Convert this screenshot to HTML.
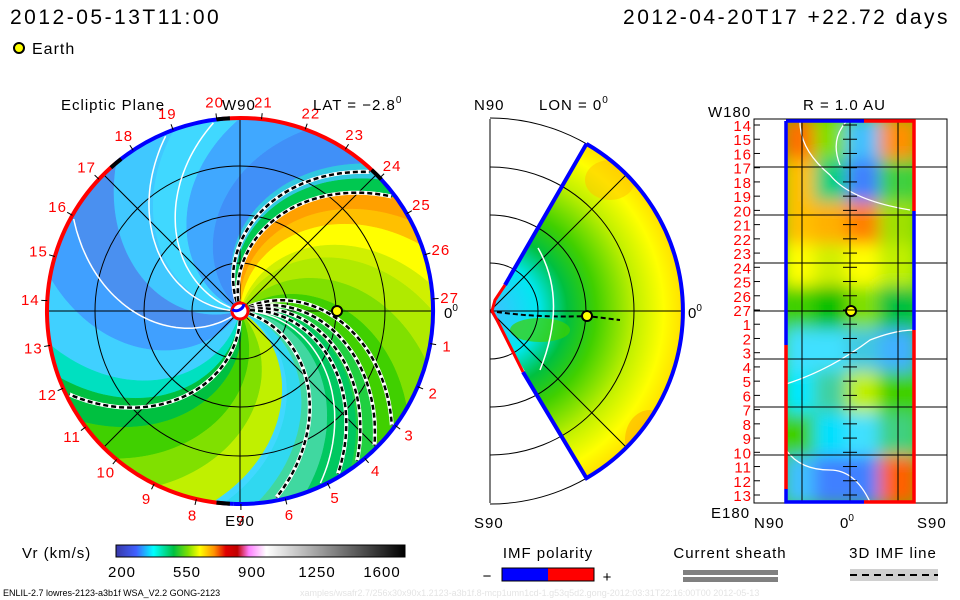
<!DOCTYPE html>
<html><head><meta charset="utf-8"><style>
html,body{margin:0;padding:0;background:#fff;}
svg{display:block;font-family:"Liberation Sans",sans-serif;}
.lbl{letter-spacing:1px;}
</style></head><body>
<svg id="c" width="960" height="600" viewBox="0 0 960 600" xmlns="http://www.w3.org/2000/svg">
<defs>
<clipPath id="leftClip"><circle cx="240" cy="311" r="193"/></clipPath>
<clipPath id="rightClip"><rect x="786" y="121" width="129" height="381"/></clipPath>
<clipPath id="midClip"><path d="M490,311 L586.5,143.9 A193,193 0 0 1 586.5,478.1 Z"/></clipPath>
<filter id="blur" x="-10%" y="-10%" width="120%" height="120%"><feGaussianBlur stdDeviation="8"/></filter>
<linearGradient id="vrGrad" x1="0" x2="1" y1="0" y2="0">
<stop offset="0" stop-color="#3838a8"/><stop offset="0.07" stop-color="#4060ff"/>
<stop offset="0.13" stop-color="#00ffff"/><stop offset="0.2" stop-color="#00c040"/>
<stop offset="0.25" stop-color="#80e000"/><stop offset="0.29" stop-color="#ffff00"/>
<stop offset="0.34" stop-color="#ff9000"/><stop offset="0.38" stop-color="#e00000"/>
<stop offset="0.42" stop-color="#c00000"/><stop offset="0.46" stop-color="#ff80ff"/>
<stop offset="0.52" stop-color="#ffffff"/><stop offset="1" stop-color="#000000"/>
</linearGradient>
<radialGradient id="midGrad" cx="490" cy="311" r="193" gradientUnits="userSpaceOnUse">
<stop offset="0" stop-color="#40c0ff"/><stop offset="0.25" stop-color="#00e8f0"/>
<stop offset="0.4" stop-color="#00c040"/><stop offset="0.55" stop-color="#40d000"/>
<stop offset="0.75" stop-color="#c0f000"/><stop offset="0.9" stop-color="#ffff00"/>
<stop offset="1" stop-color="#ffe000"/>
</radialGradient>
</defs>

<text x="10" y="24" font-size="21" letter-spacing="2.5">2012-05-13T11:00</text>
<text x="950" y="24" font-size="21" letter-spacing="2.5" text-anchor="end">2012-04-20T17 +22.72 days</text>
<circle cx="19" cy="48" r="5" fill="#ffff00" stroke="#000" stroke-width="2"/>
<text x="32" y="54" font-size="16" class="lbl">Earth</text>

<!-- LEFT panel -->
<g id="leftFill" clip-path="url(#leftClip)"></g>
<g id="leftGrid"></g>
<g id="leftRing"></g>
<g id="leftLabels"></g>
<text x="61" y="110" font-size="15" class="lbl">Ecliptic Plane</text>
<text x="222" y="110" font-size="15" class="lbl">W90</text>
<text x="313" y="110" font-size="15" class="lbl">LAT = −2.8<tspan font-size="10" dy="-7">0</tspan></text>
<text x="240" y="526" font-size="15" class="lbl" text-anchor="middle">E90</text>
<text x="444" y="318" font-size="15">0<tspan font-size="10" dy="-7">0</tspan></text>

<!-- MIDDLE panel -->
<g>
<path d="M490,311 L586.5,143.9 A193,193 0 0 1 586.5,478.1 Z" fill="url(#midGrad)"/>
<g clip-path="url(#midClip)">
<ellipse cx="540" cy="330" rx="30" ry="12" fill="#40d000" opacity="0.7"/>
<ellipse cx="650" cy="440" rx="25" ry="30" fill="#ffb000" opacity="0.6"/>
<ellipse cx="610" cy="180" rx="25" ry="20" fill="#ffc000" opacity="0.5"/>
</g>
<path d="M490,119 L490,503" stroke="#000" fill="none"/>
<g id="midGrid" fill="none" stroke="#000" stroke-width="1"></g>
<path d="M497,312 Q540,318 587,316 L620,320" stroke="#000" stroke-width="2" stroke-dasharray="5,3" fill="none"/>
<path d="M538,248 Q568,300 540,370" stroke="#fff" stroke-width="1.5" fill="none"/>
<path d="M586.5,143.9 A193,193 0 0 1 586.5,478.1 L523,372 M505,285 L586.5,143.9" stroke="#0000ff" stroke-width="4" fill="none"/>
<path d="M505,285 L495,300 L492,311 L497,320 L523,372" stroke="#ff0000" stroke-width="3" fill="none"/>
<circle cx="587" cy="316" r="5" fill="#ffff00" stroke="#000" stroke-width="2"/>
</g>
<text x="474" y="110" font-size="15" class="lbl">N90</text>
<text x="539" y="110" font-size="15" class="lbl">LON = 0<tspan font-size="10" dy="-7">0</tspan></text>
<text x="474" y="528" font-size="15" class="lbl">S90</text>
<text x="688" y="318" font-size="15">0<tspan font-size="10" dy="-7">0</tspan></text>

<!-- RIGHT panel -->
<g clip-path="url(#rightClip)">
<rect x="786" y="121" width="129" height="381" fill="#40d000"/>
<g id="rightCells" filter="url(#blur)"></g>
</g>
<path d="M800,122 Q800,150 830,175 Q850,200 910,210 M786,384 Q830,370 870,340 Q895,330 915,330 M786,450 Q800,470 830,470 Q855,470 870,502 M846,122 Q830,140 840,165" stroke="#fff" stroke-width="1.3" fill="none" clip-path="url(#rightClip)"/>
<g id="rightGrid"></g>
<rect x="754" y="119" width="193" height="384" fill="none" stroke="#000"/>
<path d="M786,121 L786,345 M786,121 L864,121 M914,211 L914,330 M786,489 L786,502 L864,502" stroke="#0000ff" stroke-width="3.5" fill="none"/>
<path d="M786,345 L786,489 M864,121 L914,121 L914,211 M914,330 L914,502 L864,502" stroke="#ff0000" stroke-width="3.5" fill="none"/>
<circle cx="851" cy="311" r="5" fill="#ffff00" stroke="#000" stroke-width="2"/>
<g id="rightLabels"></g>
<text x="708" y="117" font-size="15" class="lbl">W180</text>
<text x="803" y="110" font-size="15" class="lbl">R = 1.0 AU</text>
<text x="711" y="518" font-size="15" class="lbl">E180</text>
<text x="754" y="528" font-size="15" class="lbl">N90</text>
<text x="840" y="528" font-size="15">0<tspan font-size="10" dy="-7">0</tspan></text>
<text x="917" y="528" font-size="15" class="lbl">S90</text>

<!-- Colorbar & legends -->
<text x="22" y="558" font-size="15" class="lbl">Vr (km/s)</text>
<rect x="116" y="545" width="289" height="12" fill="url(#vrGrad)" stroke="#000"/>
<g id="cbTicks"></g>
<text x="548" y="558" font-size="15" class="lbl" text-anchor="middle">IMF polarity</text>
<rect x="502" y="568" width="46" height="13" fill="#0000ff"/>
<rect x="548" y="568" width="46" height="13" fill="#ff0000"/>
<rect x="502" y="568" width="92" height="13" fill="none" stroke="#000"/>
<text x="487" y="581" font-size="15" text-anchor="middle">−</text>
<text x="607" y="582" font-size="15" text-anchor="middle">+</text>
<text x="730" y="558" font-size="15" class="lbl" text-anchor="middle">Current sheath</text>
<rect x="683" y="570" width="95" height="5" fill="#808080"/>
<rect x="683" y="577" width="95" height="5" fill="#808080"/>
<text x="893" y="558" font-size="15" class="lbl" text-anchor="middle">3D IMF line</text>
<rect x="850" y="569" width="88" height="12" fill="#d0d0d0"/>
<line x1="850" y1="575" x2="938" y2="575" stroke="#000" stroke-width="2" stroke-dasharray="7,5"/>
<text x="3" y="596" font-size="9">ENLIL-2.7 lowres-2123-a3b1f WSA_V2.2 GONG-2123</text>
<text x="300" y="596" font-size="9" fill="#e4e4e4">xamples/wsafr2.7/256x30x90x1.2123-a3b1f.8-mcp1umn1cd-1.g53q5d2.gong-2012:03:31T22:16:00T00   2012-05-13</text>
</svg>
<script>
// ---- data ----
const sectorStart = [-95,-85,-70,-55,-45,-30,-15,0,8,20,28,36,43,50,70,90,110,130,150,170,190,200,215,230,245,262];
const sectorColor = ["#30d8f0","#40d8a0","#00c860","#20d040","#40d000","#80e000","#b0ea00","#d0f000","#ffff00","#ffc000","#ffa000","#00c850","#30c8e0","#4090f8","#40a8ff","#40d8ff","#40c8ff","#4a90f0","#40a0ff","#40d0ff","#00e0c0","#00c040","#40d000","#80e000","#c0f000","#40d8ff"];
const dashedSpiralEdge = [46,36,-38,-46,-53,-60,205,-80];
const whiteSpiralEdge = [97,112,150,-66];
const carringtonLabels = ["27","1","2","3","4","5","6","7","8","9","10","11","12","13","14","15","16","17","18","19","20","21","22","23","24","25","26"];
const ringSegStart = [-92,45,95,130,265];
const ringSegColor = ["#0000ff","#ff0000","#0000ff","#ff0000","#0000ff"];
const ringBlack = [45,95,130,265];
const rightRowLabels = ["14","15","16","17","18","19","20","21","22","23","24","25","26","27","1","2","3","4","5","6","7","8","9","10","11","12","13"];
const rightCellColors = [
 ["#ff7000","#80e000","#40c0ff","#ff9000"],
 ["#ffc000","#00d080","#4080ff","#40d040"],
 ["#ffc000","#ffb000","#ff8000","#a0e000"],
 ["#ffff00","#d0f000","#ffff00","#c0f000"],
 ["#40d000","#00c000","#80e000","#00c040"],
 ["#40e0ff","#40e0ff","#40c8e0","#40b0ff"],
 ["#00e8ff","#40d0a0","#c0f000","#40d000"],
 ["#40d000","#00e0ff","#40e0ff","#40d080"],
 ["#40c0ff","#4080ff","#4080ff","#ff6000"]];
const cbValues = [200,550,900,1250,1600];

// ---- helpers ----
const NS="http://www.w3.org/2000/svg";
function mk(tag, attrs, parent){const e=document.createElementNS(NS,tag);for(const k in attrs)e.setAttribute(k,attrs[k]);parent.appendChild(e);return e;}
const CX=240, CY=311, R=193, K=0.35;
function pt(r,aDeg){const a=aDeg*Math.PI/180;return [CX+r*Math.cos(a), CY-r*Math.sin(a)];}
function spiralAngle(edge,r){return edge+K*(R-r);}
function spiralPts(edge,r0,r1){const p=[];for(let r=r0;r<=r1;r+=4)p.push(pt(r,spiralAngle(edge,r)));return p;}

const lf=document.getElementById('leftFill');
for(let i=0;i<sectorStart.length;i++){
  const a0=sectorStart[i], a1=(i+1<sectorStart.length?sectorStart[i+1]:sectorStart[0]+360);
  const p1=spiralPts(a0,0,R+10), p2=spiralPts(a1,0,R+10).reverse();
  const s=mk('path',{d:'M'+p1.concat(p2).map(p=>p[0].toFixed(1)+','+p[1].toFixed(1)).join('L')+'Z',fill:sectorColor[i],stroke:sectorColor[i],'stroke-width':0.5},lf);
  
  
}
const lg=document.getElementById('leftGrid');
[48,96,145].forEach(r=>{const c=mk('circle',{cx:CX,cy:CY,r:r,fill:'none',stroke:'#000','stroke-width':1},lg);
 
 });
[0,45,90,135].forEach(a=>{const p=pt(R,a),q=pt(R,a+180);mk('line',{x1:p[0],y1:p[1],x2:q[0],y2:q[1],stroke:'#000','stroke-width':1},lg);});
function spiralPath(edge,color,dash,w){const p=spiralPts(edge,10,R);return mk('path',{d:'M'+p.map(q=>q[0].toFixed(1)+','+q[1].toFixed(1)).join('L'),fill:'none',stroke:color,'stroke-width':w,'stroke-dasharray':dash||'none'},lg);}
whiteSpiralEdge.forEach(e=>{const s=spiralPath(e,'#fff',null,1.5);
 
 });
dashedSpiralEdge.forEach(e=>{spiralPath(e,'#fff',null,4);const s=spiralPath(e,'#000','5,3',2.5);
 
 });
mk('circle',{cx:CX,cy:CY,r:8,fill:'#fff',stroke:'#ff0000','stroke-width':3},lg);
mk('path',{d:'M'+pt(8,60)+' A8,8 0 0 1 '+pt(8,170),fill:'none',stroke:'#0000ff','stroke-width':3},lg);
const earth=mk('circle',{cx:CX+97,cy:CY,r:5,fill:'#ffff00',stroke:'#000','stroke-width':2},lg);


const lr=document.getElementById('leftRing');
function arc(a0,a1,r){const p=pt(r,a0),q=pt(r,a1);const large=(a1-a0)>180?1:0;return 'M'+p[0].toFixed(1)+','+p[1].toFixed(1)+' A'+r+','+r+' 0 '+large+' 0 '+q[0].toFixed(1)+','+q[1].toFixed(1);}
for(let i=0;i<ringSegStart.length;i++){
  const a0=ringSegStart[i], a1=(i+1<ringSegStart.length?ringSegStart[i+1]:ringSegStart[0]+360);
  const s=mk('path',{d:arc(a0,a1,R),fill:'none',stroke:ringSegColor[i],'stroke-width':4},lr);
  
  
}
ringBlack.forEach(a=>mk('path',{d:arc(a-2,a+2,R),fill:'none',stroke:'#000','stroke-width':4},lr));
const ll=document.getElementById('leftLabels');
carringtonLabels.forEach((t,i)=>{
  const a=3.6-i*360/27; const p=pt(R,a), q=pt(R+6,a), l=pt(210,a);
  mk('line',{x1:p[0],y1:p[1],x2:q[0],y2:q[1],stroke:'#000'},ll);
  const tx=mk('text',{x:l[0].toFixed(1),y:(l[1]+5).toFixed(1),'font-size':15,'text-anchor':'middle',fill:'#ff0000','letter-spacing':1},ll);
  tx.textContent=t;
  
  
});
const mg=document.getElementById('midGrid');
[48,96,144,193].forEach(r=>mk('path',{d:'M490,'+(311-r)+' A'+r+','+r+' 0 0 1 490,'+(311+r)},mg));
mk('line',{x1:490,y1:311,x2:683,y2:311},mg);
[45,-45].forEach(a=>{const t=a*Math.PI/180;mk('line',{x1:490,y1:311,x2:490+193*Math.cos(t),y2:311-193*Math.sin(t)},mg);});
const rc=document.getElementById('rightCells');
const rowH=381/rightCellColors.length, colW=129/4;
rightCellColors.forEach((row,ri)=>row.forEach((col,ci)=>{
  const c=mk('rect',{x:(786+ci*colW-4).toFixed(1),y:(121+ri*rowH-4).toFixed(1),width:(colW+8).toFixed(1),height:(rowH+8).toFixed(1),fill:col},rc);
  
  
}));
const rg=document.getElementById('rightGrid');
[167,215,263,311,359,407,455].forEach(y=>mk('line',{x1:754,y1:y,x2:947,y2:y,stroke:'#000'},rg));
[802,850,898].forEach(x=>mk('line',{x1:x,y1:119,x2:x,y2:503,stroke:'#000'},rg));
const rl=document.getElementById('rightLabels');
rightRowLabels.forEach((t,i)=>{
  const y=125+i*370/26;
  mk('line',{x1:754,y1:y,x2:760,y2:y,stroke:'#000'},rl);
  mk('line',{x1:843,y1:y,x2:857,y2:y,stroke:'#000'},rl);
  const tx=mk('text',{x:752,y:(y+6).toFixed(1),'font-size':15,'text-anchor':'end',fill:'#ff0000','letter-spacing':1},rl);
  tx.textContent=t;
  
  
});
const cb=document.getElementById('cbTicks');
cbValues.forEach(v=>{
  const x=122+(v-200)/1400*260;
  const tx=mk('text',{x:x.toFixed(1),y:577,'font-size':15,'text-anchor':'middle','letter-spacing':1},cb);
  tx.textContent=v;
  
  
});
</script>
</body></html>
